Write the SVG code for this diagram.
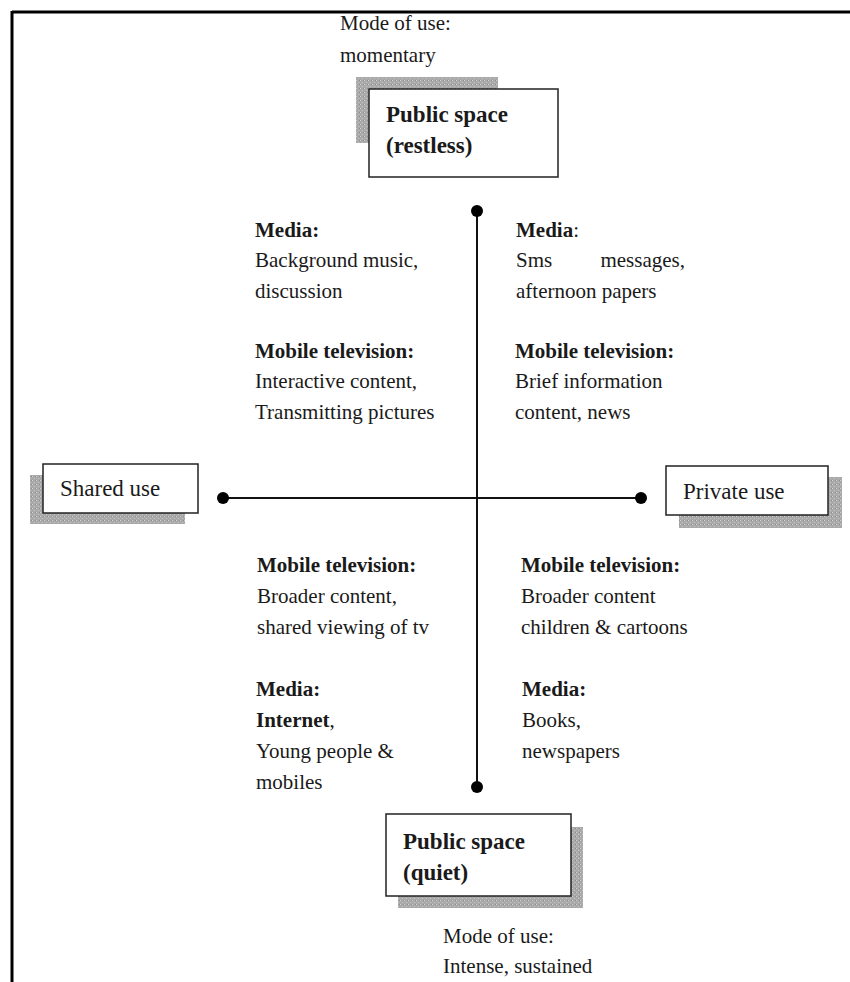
<svg xmlns="http://www.w3.org/2000/svg" width="850" height="982" viewBox="0 0 850 982">
<defs>
<pattern id="dots" width="4" height="4" patternUnits="userSpaceOnUse">
<rect width="4" height="4" fill="#a9a9a9"/>
<rect x="0" y="0" width="1" height="1" fill="#d0d0d0"/>
<rect x="2" y="2" width="1" height="1" fill="#c4c4c4"/>
<rect x="3" y="0" width="1" height="1" fill="#8e8e8e"/>
</pattern>
<style>
text{font-family:"Liberation Serif","Times New Roman",serif;fill:#1a1a1a}
.b{font-size:21px}
.lab{font-size:23px}
.bold{font-weight:bold}
.box{fill:#fff;stroke:#222;stroke-width:1.5}
.sh{fill:url(#dots)}
.ln{stroke:#111;stroke-width:2;fill:none}
.dot{fill:#000}
</style>
</defs>
<g id="frame">
<line x1="12" y1="12" x2="850" y2="12" stroke="#000" stroke-width="3"/>
<line x1="12" y1="11" x2="12" y2="982" stroke="#000" stroke-width="3"/>
</g>
<g id="connectors">
<line class="ln" x1="477" y1="211" x2="477" y2="787"/>
<line class="ln" x1="223" y1="498" x2="641" y2="498"/>
<circle class="dot" cx="477" cy="211" r="6"/>
<circle class="dot" cx="477" cy="787" r="6"/>
<circle class="dot" cx="223" cy="498" r="6"/>
<circle class="dot" cx="641" cy="498" r="6"/>
</g>
<g id="node-top">
<text class="b" x="340" y="30">Mode of use:</text>
<text class="b" x="340" y="62">momentary</text>
<rect class="sh" x="356" y="77" width="142" height="66"/>
<rect class="box" x="369" y="89" width="189" height="88"/>
<text class="lab bold" x="386" y="122">Public space</text>
<text class="lab bold" x="386" y="153">(restless)</text>
</g>
<g id="node-left">
<rect class="sh" x="30" y="475" width="155" height="49"/>
<rect class="box" x="43" y="464" width="155" height="49"/>
<text class="lab" x="60" y="496">Shared use</text>
</g>
<g id="node-right">
<rect class="sh" x="679" y="477" width="163" height="51"/>
<rect class="box" x="666" y="466" width="162" height="49"/>
<text class="lab" x="683" y="499">Private use</text>
</g>
<g id="node-bottom">
<rect class="sh" x="398" y="827" width="185" height="81"/>
<rect class="box" x="386" y="814" width="185" height="82"/>
<text class="lab bold" x="403" y="849">Public space</text>
<text class="lab bold" x="403" y="880">(quiet)</text>
<text class="b" x="443" y="943">Mode of use:</text>
<text class="b" x="443" y="973">Intense, sustained</text>
</g>
<g id="quadrant-top-left">
<text class="b bold" x="255" y="237">Media:</text>
<text class="b" x="255" y="267">Background music,</text>
<text class="b" x="255" y="298">discussion</text>
<text class="b bold" x="255" y="358">Mobile television:</text>
<text class="b" x="255" y="388">Interactive content,</text>
<text class="b" x="255" y="419">Transmitting pictures</text>
</g>
<g id="quadrant-top-right">
<text class="b" x="516" y="237"><tspan font-weight="bold">Media</tspan>:</text>
<text class="b" x="516" y="267">Sms</text>
<text class="b" x="685" y="267" text-anchor="end">messages,</text>
<text class="b" x="516" y="298">afternoon papers</text>
<text class="b bold" x="515" y="358">Mobile television:</text>
<text class="b" x="515" y="388">Brief information</text>
<text class="b" x="515" y="419">content, news</text>
</g>
<g id="quadrant-bottom-left">
<text class="b bold" x="257" y="572">Mobile television:</text>
<text class="b" x="257" y="603">Broader content,</text>
<text class="b" x="257" y="634">shared viewing of tv</text>
<text class="b bold" x="256" y="696">Media:</text>
<text class="b" x="256" y="727"><tspan font-weight="bold">Internet</tspan>,</text>
<text class="b" x="256" y="758">Young people &amp;</text>
<text class="b" x="256" y="789">mobiles</text>
</g>
<g id="quadrant-bottom-right">
<text class="b bold" x="521" y="572">Mobile television:</text>
<text class="b" x="521" y="603">Broader content</text>
<text class="b" x="521" y="634">children &amp; cartoons</text>
<text class="b bold" x="522" y="696">Media:</text>
<text class="b" x="522" y="727">Books,</text>
<text class="b" x="522" y="758">newspapers</text>
</g>
</svg>
